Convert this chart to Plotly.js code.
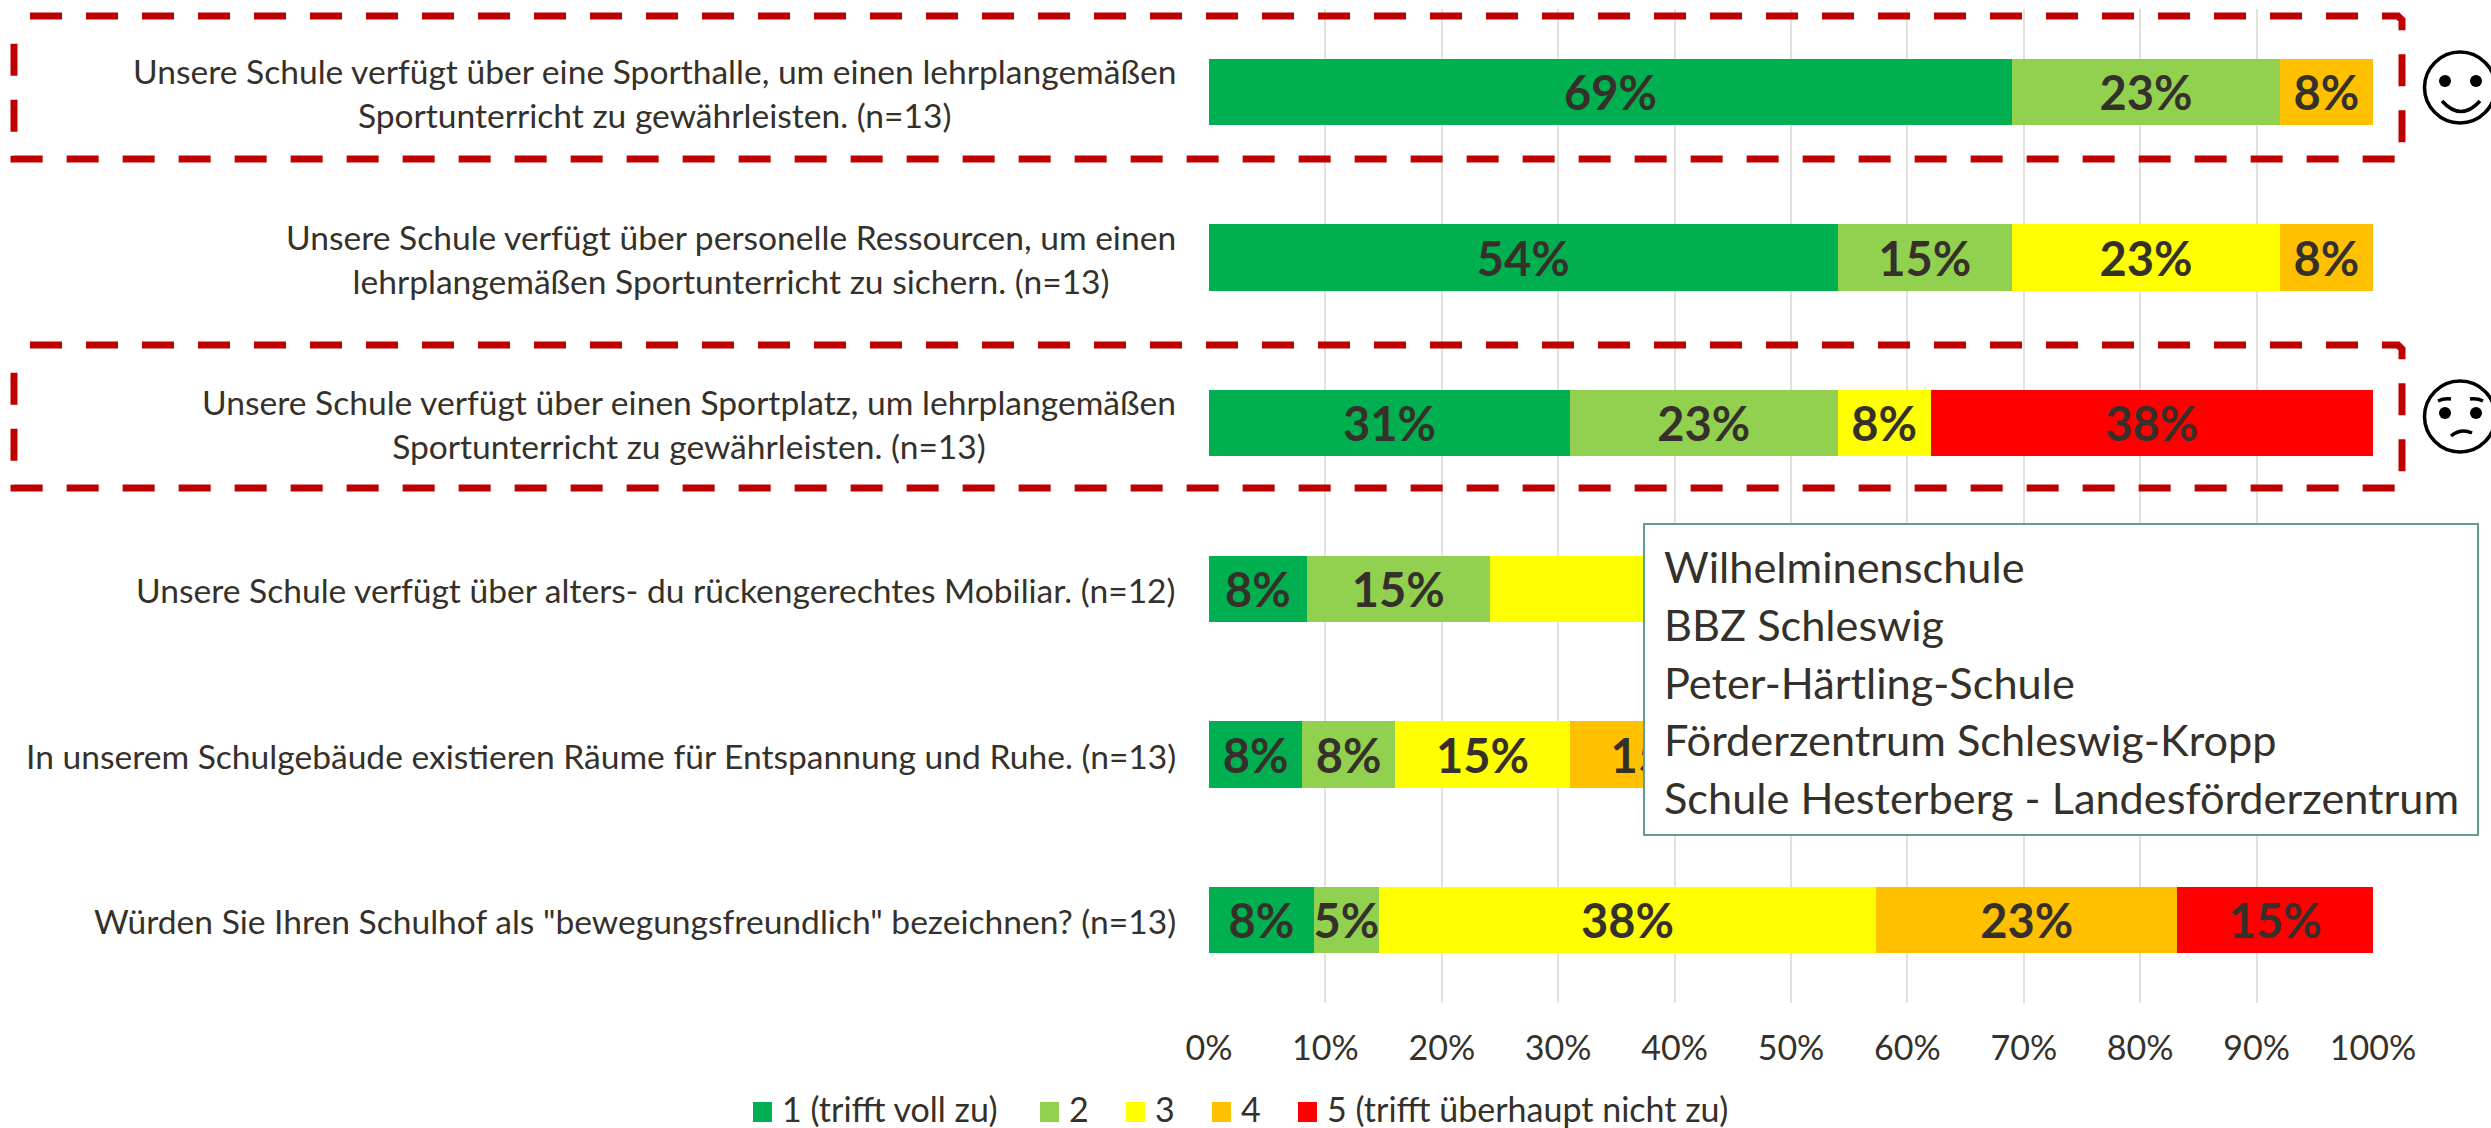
<!DOCTYPE html>
<html><head><meta charset="utf-8">
<script src="https://cdn.plot.ly/plotly-3.0.1.min.js"></script>
<style>html,body{margin:0;padding:0;background:#fff;overflow:hidden}</style>
</head><body><div id="chart" style="width:2491px;height:1128px"></div>
<script>
const categories = [
  'Unsere Schule verfügt über eine Sporthalle, um einen lehrplangemäßen<br>Sportunterricht zu gewährleisten. (n=13)',
  'Unsere Schule verfügt über personelle Ressourcen, um einen<br>lehrplangemäßen Sportunterricht zu sichern. (n=13)',
  'Unsere Schule verfügt über einen Sportplatz, um lehrplangemäßen<br>Sportunterricht zu gewährleisten. (n=13)',
  'Unsere Schule verfügt über alters- du rückengerechtes Mobiliar. (n=12)',
  'In unserem Schulgebäude existieren Räume für Entspannung und Ruhe. (n=13)',
  'Würden Sie Ihren Schulhof als "bewegungsfreundlich" bezeichnen? (n=13)'
];
const seriesNames = ['1 (trifft voll zu)', '2', '3', '4', '5 (trifft überhaupt nicht zu)'];
const seriesColors = ['#00B050', '#92D050', '#FFFF00', '#FFC000', '#FF0000'];
const values1 = [69, 54, 31, 8.4, 8, 9];
const values2 = [23, 15, 23, 15.7, 8, 5.6];
const values3 = [0, 23, 8, 42, 15, 42.7];
const values4 = [8, 8, 0, 25, 15, 25.9];
const values5 = [0, 0, 38, 8.9, 54, 16.8];
const labels1 = ['69%', '54%', '31%', '8%', '8%', '8%'];
const labels2 = ['23%', '15%', '23%', '15%', '8%', '5%'];
const labels3 = ['', '23%', '8%', '', '15%', '38%'];
const labels4 = ['8%', '8%', '', '', '15%', '23%'];
const labels5 = ['', '', '38%', '', '', '15%'];
const schools = ['Wilhelminenschule', 'BBZ Schleswig', 'Peter-Härtling-Schule', 'Förderzentrum Schleswig-Kropp', 'Schule Hesterberg - Landesförderzentrum'];

const W = 2491, H = 1128, FONT = 'Lato, "Open Sans", sans-serif', INK = '#35312A';
const m = {l: 1209, r: 118, t: 9, b: 125};
const px = x => (x - m.l) / (W - m.l - m.r);
const py = y => 1 - (y - m.t) / (H - m.t - m.b);
const allValues = [values1, values2, values3, values4, values5];
const allLabels = [labels1, labels2, labels3, labels4, labels5];

const traces = seriesNames.map((name, i) => ({
  type: 'bar', orientation: 'h', name, y: categories, x: allValues[i], text: allLabels[i],
  marker: {color: seriesColors[i], line: {width: 0}},
  textposition: 'inside', insidetextanchor: 'middle', textangle: 0, constraintext: 'none',
  textfont: {family: FONT, size: 47, color: INK, weight: 700},
  cliponaxis: false, showlegend: false, hoverinfo: 'skip'
}));

function pathOf(points) { return points.map((p, i) => (i ? 'L' : 'M') + px(p[0]) + ',' + py(p[1])).join(' '); }
function dashedBox(top, bottom) {
  return {type: 'path', xref: 'x domain', yref: 'y domain', layer: 'above',
    path: pathOf([[30, top], [2398, top], [2402, top + 4], [2402, bottom], [14, bottom], [14, top + 7]]),
    line: {color: '#C00000', width: 7, dash: '32px,24px'}, fillcolor: 'rgba(0,0,0,0)'};
}
function rectPx(x0, y0, x1, y1, extra) {
  return Object.assign({type: 'rect', xref: 'x domain', yref: 'y domain', layer: 'above',
    x0: px(x0), x1: px(x1), y0: py(y0), y1: py(y1)}, extra);
}
function circlePx(cx, cy, r, extra) {
  return Object.assign({type: 'circle', xref: 'x domain', yref: 'y domain', layer: 'above',
    x0: px(cx - r), x1: px(cx + r), y0: py(cy - r), y1: py(cy + r)}, extra);
}
function curvePx(a, c, b) {
  return {type: 'path', xref: 'x domain', yref: 'y domain', layer: 'above',
    path: 'M' + px(a[0]) + ',' + py(a[1]) + ' Q' + px(c[0]) + ',' + py(c[1]) + ' ' + px(b[0]) + ',' + py(b[1]),
    line: {color: '#000', width: 3.5}, fillcolor: 'rgba(0,0,0,0)'};
}
const face = {line: {color: '#000', width: 3.5}, fillcolor: 'rgba(0,0,0,0)'};
const dot = {line: {width: 0}, fillcolor: '#000'};
const shapes = [
  dashedBox(16, 159), dashedBox(345, 488),
  rectPx(1644, 524, 2478, 835, {line: {color: '#5F9E92', width: 2}, fillcolor: '#fff'}),
  circlePx(2460, 87.5, 35.5, face), circlePx(2445, 81, 6, dot), circlePx(2476, 81, 6, dot),
  curvePx([2442, 101], [2461, 122], [2480, 101]),
  circlePx(2460, 416.5, 35.5, face), circlePx(2445, 413, 6, dot), circlePx(2476, 413, 6, dot),
  curvePx([2438, 401], [2444, 398], [2451, 399]), curvePx([2470, 399], [2477, 398], [2483, 401]),
  curvePx([2451, 436], [2461, 428], [2472, 433])
];
const annotations = categories.map(c => ({
  xref: 'paper', yref: 'y', x: 0, y: c, xanchor: 'right', xshift: -32, yshift: -1, text: c, showarrow: false,
  align: 'center', borderpad: 0, font: {family: FONT, size: 33.6, color: INK}
}));
const rowY = [566, 624, 682, 739, 797];
schools.forEach((s, i) => annotations.push({
  xref: 'paper', yref: 'paper', x: px(1663), y: py(rowY[i]), xanchor: 'left', yanchor: 'middle', text: s,
  showarrow: false, borderpad: 0, font: {family: FONT, size: 43.3, color: INK}
}));
const legendSwatch = [753, 1040, 1126, 1212, 1298];
seriesNames.forEach((s, i) => {
  shapes.push(rectPx(legendSwatch[i], 1102, legendSwatch[i] + 19, 1122, {line: {width: 0}, fillcolor: seriesColors[i]}));
  annotations.push({xref: 'paper', yref: 'paper', x: px(legendSwatch[i] + 28), y: py(1108), xanchor: 'left', yanchor: 'middle',
    text: s, showarrow: false, borderpad: 0, font: {family: FONT, size: 34, color: INK}});
});

const layout = {
  width: W, height: H, margin: m, paper_bgcolor: '#fff', plot_bgcolor: '#fff',
  barmode: 'stack', bargap: 0.6, showlegend: false, font: {family: FONT, color: INK},
  xaxis: {range: [0, 100], dtick: 10, ticksuffix: '%', showgrid: true, gridcolor: '#E2E2DC', gridwidth: 2,
    zeroline: false, showline: false, ticks: '', ticklabelstandoff: 22, tickfont: {family: FONT, size: 34, color: INK}},
  yaxis: {type: 'category', categoryorder: 'array', categoryarray: categories, autorange: false, range: [5.5, -0.5],
    showticklabels: false, showgrid: false, zeroline: false, showline: false, ticks: ''},
  shapes, annotations
};
Plotly.newPlot('chart', traces, layout, {displayModeBar: false});
</script></body></html>
